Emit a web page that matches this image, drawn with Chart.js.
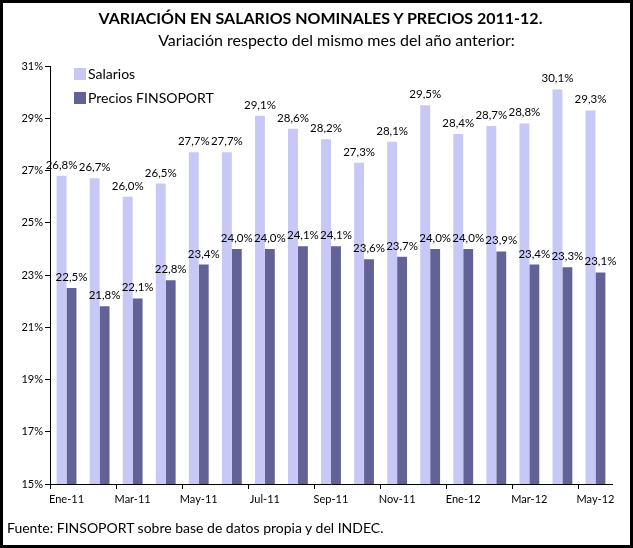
<!DOCTYPE html>
<html>
<head>
<meta charset="utf-8">
<script src="https://cdn.jsdelivr.net/npm/chart.js@4/dist/chart.umd.min.js"></script>
<style>
  body { margin: 0; background: #fff; }
  #frame {
    position: relative; width: 633px; height: 548px;
    box-sizing: border-box; border: 3px solid #000; background: #fff;
    font-family: Lato, "Open Sans", sans-serif; color: #000;
  }
  #frame canvas { position: absolute; left: 0; top: 0; }
  .title { position: absolute; text-align: center; }
  #t1 { top: 5px; left: 4px; width: 627px; font-size: 16px; font-weight: bold; line-height: 20px; }
  #t2 { top: 27px; left: 20px; width: 627px; font-size: 16px; line-height: 20px; }
  #foot { position: absolute; left: 4px; top: 516px; font-size: 14px; line-height: 18px; }
</style>
</head>
<body>
<div id="frame">
  <canvas id="chart" width="627" height="542"></canvas>
  <div class="title" id="t1">VARIACIÓN EN SALARIOS NOMINALES Y PRECIOS 2011-12.</div>
  <div class="title" id="t2">Variación respecto del mismo mes del año anterior:</div>
  <div id="foot">Fuente: FINSOPORT sobre base de datos propia y del INDEC.</div>
</div>
<script>
// datos
const months = ['Ene-11', 'Feb-11', 'Mar-11', 'Abr-11', 'May-11', 'Jun-11', 'Jul-11', 'Ago-11', 'Sep-11',
    'Oct-11', 'Nov-11', 'Dic-11', 'Ene-12', 'Feb-12', 'Mar-12', 'Abr-12', 'May-12'];
const salarios = [26.8, 26.7, 26.0, 26.5, 27.7, 27.7, 29.1, 28.6, 28.2, 27.3, 28.1, 29.5, 28.4, 28.7, 28.8, 30.1, 29.3];
const precios = [22.5, 21.8, 22.1, 22.8, 23.4, 24.0, 24.0, 24.1, 24.1, 23.6, 23.7, 24.0, 24.0, 23.9, 23.4, 23.3, 23.1];
const yTicks = [15, 17, 19, 21, 23, 25, 27, 29, 31];

const FONT = 'Lato, "Open Sans", sans-serif';
const fmt = v => v.toFixed(1).replace('.', ',') + '%';

// etiquetas de valor encima de cada barra
const valueLabels = {
    id: 'valueLabels',
    afterDatasetsDraw(chart) {
        const ctx = chart.ctx;
        ctx.save();
        ctx.font = '11.5px ' + FONT;
        ctx.fillStyle = '#000';
        ctx.textAlign = 'center';
        ctx.textBaseline = 'bottom';
        chart.data.datasets.forEach((ds, i) => {
            chart.getDatasetMeta(i).data.forEach((bar, j) => {
                ctx.fillText(fmt(ds.data[j]), bar.x, bar.y - 5);
            });
        });
        ctx.restore();
    }
};

// leyenda dentro del área del gráfico
const innerLegend = {
    id: 'innerLegend',
    afterDraw(chart) {
        const ctx = chart.ctx;
        const { left, top } = chart.chartArea;
        ctx.save();
        ctx.font = '14px ' + FONT;
        ctx.textBaseline = 'middle';
        chart.data.datasets.forEach((ds, i) => {
            const x = left + 24;
            const y = top + 2 + i * 24;
            ctx.fillStyle = ds.backgroundColor;
            ctx.fillRect(x, y, 12, 12);
            ctx.fillStyle = '#000';
            ctx.fillText(ds.label, x + 14, y + 6);
        });
        ctx.restore();
    }
};

new Chart(document.getElementById('chart'), {
    type: 'bar',
    data: {
        labels: months,
        datasets: [
            { label: 'Salarios', data: salarios, backgroundColor: '#c8c8f6' },
            { label: 'Precios FINSOPORT', data: precios, backgroundColor: '#626296' }
        ]
    },
    options: {
        responsive: false,
        animation: false,
        layout: { padding: { left: 3, right: 18, top: 63, bottom: 31 } },
        datasets: { bar: { categoryPercentage: 0.6, barPercentage: 1.0 } },
        plugins: {
            legend: { display: false },
            tooltip: { enabled: false }
        },
        scales: {
            x: {
                afterFit: s => { s.height = 30; },
                border: { color: '#000', width: 1 },
                grid: {
                    drawOnChartArea: false,
                    tickLength: 5,
                    color: c => (c.index % 2 === 0 ? '#000' : 'rgba(0,0,0,0)')
                },
                ticks: {
                    autoSkip: false,
                    maxRotation: 0,
                    padding: 4,
                    color: '#000',
                    font: { family: FONT, size: 11 },
                    callback: (v, i) => (i % 2 === 0 ? months[i] : '')
                }
            },
            y: {
                min: yTicks[0],
                max: yTicks[yTicks.length - 1],
                afterFit: s => { s.width = 44; },
                afterBuildTicks: s => { s.ticks = yTicks.map(v => ({ value: v })); },
                border: { color: '#000', width: 1 },
                grid: { drawOnChartArea: false, tickLength: 5, color: '#000' },
                ticks: {
                    padding: 2,
                    color: '#000',
                    font: { family: FONT, size: 11 },
                    callback: v => v + '%'
                }
            }
        }
    },
    plugins: [valueLabels, innerLegend]
});
</script>
</body>
</html>
